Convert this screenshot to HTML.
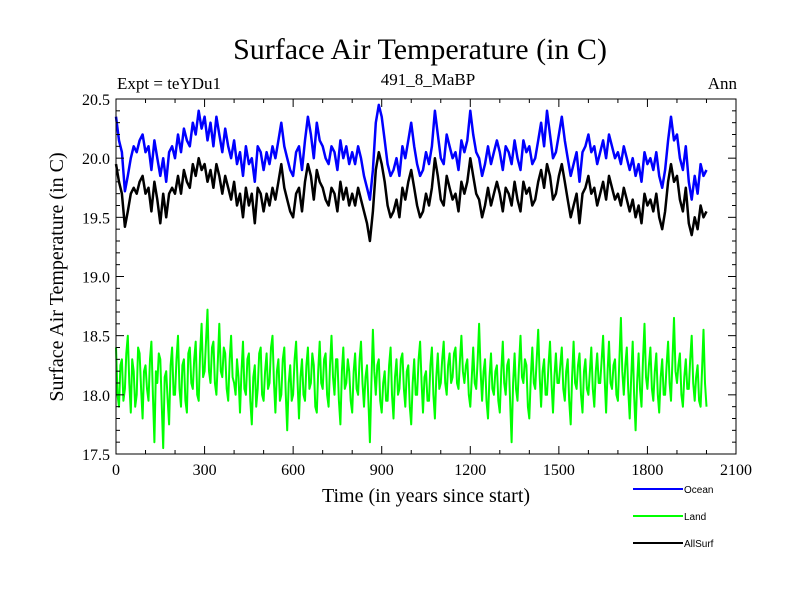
<!DOCTYPE html>
<html><head><meta charset="utf-8"><style>
body{margin:0;background:#fff;}
svg text{font-family:"Liberation Serif",serif;}
</style></head><body>
<svg id="chart" width="800" height="600" xmlns="http://www.w3.org/2000/svg">
<rect width="800" height="600" fill="#fff"/>
<text x="420" y="59" font-size="30" text-anchor="middle">Surface Air Temperature (in C)</text>
<text x="117" y="89" font-size="17">Expt = teYDu1</text>
<text x="428" y="85" font-size="17" text-anchor="middle">491_8_MaBP</text>
<text x="737" y="89" font-size="17" text-anchor="end">Ann</text>
<text transform="translate(63,277) rotate(-90)" font-size="20" text-anchor="middle">Surface Air Temperature (in C)</text>
<text x="426" y="502" font-size="20" text-anchor="middle">Time (in years since start)</text>
<g id="series"></g>
<g id="axes"></g>
<g id="legend"></g>
</svg>
<script>
const yearStep = 10;
const landStep = 5;
const ocean = [20.35,20.15,20.05,19.72,19.85,20.0,20.1,20.05,20.15,20.2,
20.05,20.1,19.9,20.15,20.0,19.85,20.0,19.8,20.05,20.1,
20.0,20.2,20.05,20.25,20.15,20.1,20.3,20.2,20.4,20.25,
20.35,20.15,20.3,20.1,20.35,20.2,20.05,20.25,20.1,20.0,
20.15,19.95,20.05,19.85,20.1,19.95,20.0,19.8,20.1,20.05,
19.9,20.05,19.95,20.1,20.0,20.15,20.3,20.1,20.0,19.9,
19.85,20.05,20.1,19.9,20.15,20.35,20.2,20.0,20.3,20.15,
20.1,20.0,19.95,20.1,20.05,19.9,20.15,20.0,20.1,19.95,
20.05,19.95,20.1,20.0,19.85,19.75,19.65,19.9,20.3,20.45,
20.35,20.15,19.95,19.85,19.9,20.0,19.85,20.1,20.0,20.15,
20.3,20.1,19.95,19.85,19.9,20.05,19.95,20.1,20.4,20.2,
20.0,19.95,20.2,20.1,20.0,20.05,19.9,20.15,20.05,20.15,
20.4,20.2,20.05,20.0,19.85,19.95,20.1,19.95,20.05,20.15,
20.05,19.9,20.1,20.05,19.95,20.15,20.0,19.9,20.15,20.05,
20.1,19.95,20.0,20.15,20.3,20.1,20.4,20.2,20.0,20.05,
20.2,20.35,20.15,20.0,19.85,19.95,20.05,19.8,20.05,20.1,
20.2,20.05,20.1,19.95,20.05,20.15,20.0,20.2,20.1,20.0,
20.05,19.95,20.1,20.0,19.9,20.0,19.85,19.95,19.8,20.05,
19.95,20.0,19.9,20.05,19.85,19.75,19.9,20.15,20.35,20.15,
20.2,20.0,19.9,20.1,19.8,19.65,19.85,19.7,19.95,19.85,19.9];
const land = [18.4,18.0,17.9,18.25,18.3,17.95,18.05,18.35,18.5,18.1,17.85,18.3,18.2,17.9,18.0,18.4,18.35,18.05,17.8,18.2,
18.25,18.05,17.95,18.3,18.45,18.0,17.6,18.2,18.1,18.35,18.3,17.9,17.55,18.15,18.2,17.95,17.75,18.25,18.4,18.0,
18.0,18.3,18.5,18.05,17.9,18.25,18.3,17.95,17.85,18.35,18.4,18.1,18.05,18.3,18.45,18.0,17.95,18.35,18.6,18.15,
18.2,18.45,18.72,18.2,18.1,18.4,18.45,18.1,18.0,18.3,18.6,18.2,18.15,18.4,18.35,18.05,17.95,18.3,18.5,18.15,
18.1,18.0,18.3,18.15,17.85,18.2,18.45,18.05,18.0,18.3,18.35,17.95,17.75,18.15,18.25,17.9,18.05,18.35,18.4,18.0,
17.95,18.2,18.35,18.05,18.1,18.4,18.5,18.1,17.85,18.2,18.3,17.95,18.0,18.3,18.4,18.0,17.7,18.1,18.25,17.95,
18.0,18.3,18.45,18.1,17.8,18.15,18.3,18.0,17.95,18.25,18.4,18.05,18.1,18.35,18.25,17.9,17.85,18.2,18.45,18.1,
18.05,18.3,18.35,18.0,17.9,18.25,18.5,18.15,18.0,18.3,18.3,17.95,17.75,18.2,18.4,18.05,18.1,18.3,18.2,17.95,
17.85,18.2,18.35,18.05,18.0,18.3,18.45,18.1,17.9,18.15,18.25,17.95,17.6,18.1,18.55,18.2,18.0,18.25,18.3,17.95,
17.85,18.1,18.2,17.95,17.95,18.25,18.4,18.0,17.8,18.15,18.3,18.0,18.05,18.3,18.35,18.05,17.9,18.2,18.25,17.9,
17.75,18.1,18.3,18.0,18.0,18.3,18.45,18.1,17.85,18.15,18.2,17.95,17.95,18.25,18.4,18.0,17.8,18.15,18.35,18.05,
18.1,18.3,18.45,18.1,18.0,18.25,18.35,18.1,18.15,18.35,18.4,18.1,18.05,18.3,18.5,18.2,18.1,18.25,18.3,18.0,
17.9,18.15,18.4,18.1,18.05,18.3,18.6,18.2,17.95,18.2,18.3,17.95,17.8,18.15,18.35,18.05,18.0,18.2,18.25,17.95,
17.85,18.2,18.45,18.1,18.0,18.25,18.3,17.95,17.6,18.1,18.35,18.05,17.95,18.25,18.5,18.15,18.1,18.3,18.25,17.9,
17.8,18.15,18.4,18.1,18.05,18.3,18.55,18.15,17.9,18.2,18.3,18.0,18.0,18.25,18.45,18.1,17.85,18.15,18.35,18.1,
18.1,18.25,18.4,18.05,17.95,18.2,18.3,17.95,17.75,18.15,18.45,18.1,18.05,18.25,18.35,18.0,17.85,18.2,18.3,18.05,
18.0,18.2,18.4,18.05,17.9,18.2,18.35,18.1,18.1,18.3,18.5,18.15,17.85,18.2,18.45,18.1,18.05,18.25,18.3,18.0,
17.95,18.3,18.65,18.2,18.0,18.25,18.4,18.05,17.8,18.15,18.45,18.0,17.7,18.1,18.35,18.05,17.9,18.3,18.6,18.15,
18.05,18.25,18.4,18.05,17.95,18.2,18.35,18.0,17.85,18.15,18.3,18.0,18.0,18.25,18.45,18.1,17.95,18.3,18.65,18.2,
18.1,18.25,18.35,18.0,17.9,18.15,18.3,18.05,18.05,18.3,18.5,18.1,17.95,18.15,18.25,17.95,17.9,18.2,18.55,18.1,17.9];
const allSurf = [19.95,19.8,19.7,19.42,19.55,19.7,19.75,19.7,19.8,19.85,
19.7,19.75,19.55,19.8,19.65,19.45,19.7,19.5,19.7,19.75,
19.7,19.85,19.7,19.9,19.8,19.75,19.95,19.85,20.0,19.9,
19.95,19.8,19.9,19.75,19.95,19.85,19.7,19.85,19.75,19.65,
19.8,19.6,19.7,19.5,19.75,19.6,19.7,19.45,19.75,19.7,
19.55,19.7,19.6,19.75,19.65,19.8,19.95,19.75,19.65,19.55,
19.5,19.7,19.75,19.55,19.8,19.95,19.85,19.65,19.9,19.8,
19.75,19.65,19.6,19.75,19.7,19.55,19.8,19.65,19.75,19.6,
19.7,19.6,19.75,19.65,19.55,19.45,19.3,19.55,19.9,20.05,
19.95,19.8,19.6,19.5,19.55,19.65,19.5,19.75,19.65,19.8,
19.9,19.75,19.6,19.5,19.55,19.7,19.6,19.75,20.0,19.85,
19.65,19.6,19.85,19.75,19.65,19.7,19.55,19.8,19.7,19.8,
20.0,19.85,19.7,19.65,19.5,19.6,19.75,19.6,19.7,19.8,
19.7,19.55,19.75,19.7,19.6,19.8,19.65,19.55,19.8,19.7,
19.75,19.6,19.65,19.8,19.9,19.75,19.95,19.85,19.65,19.7,
19.85,19.95,19.8,19.65,19.5,19.6,19.7,19.45,19.7,19.75,
19.85,19.7,19.75,19.6,19.7,19.8,19.65,19.85,19.75,19.65,
19.7,19.6,19.75,19.65,19.55,19.65,19.5,19.6,19.45,19.7,
19.6,19.65,19.55,19.7,19.5,19.4,19.55,19.8,19.95,19.8,
19.85,19.65,19.55,19.75,19.45,19.35,19.5,19.4,19.6,19.5,19.55];
const xTicks = [0,300,600,900,1200,1500,1800,2100];
const yTicks = [17.5,18.0,18.5,19.0,19.5,20.0,20.5];
const legendNames = ["Ocean","Land","AllSurf"];

const NS="http://www.w3.org/2000/svg";
const L=116,R=736,T=99,B=454;
const X0=0,X1=2100,Y0=17.5,Y1=20.5;
function xs(v){return L+(v-X0)/(X1-X0)*(R-L);}
function ys(v){return B-(v-Y0)/(Y1-Y0)*(B-T);}
function mk(tag,attrs,parent){const e=document.createElementNS(NS,tag);for(const k in attrs)e.setAttribute(k,attrs[k]);parent.appendChild(e);return e;}

const sg=document.getElementById('series');
function drawSeries(arr,step,color,name,w){
  const pts=arr.map((v,i)=>xs(i*step).toFixed(1)+','+ys(v).toFixed(1)).join(' ');
  const p=mk('polyline',{points:pts,fill:'none',stroke:color,'stroke-width':w,'stroke-linejoin':'round'},sg);
  
  
}
drawSeries(land,landStep,'#00ff00','land-series','2');
drawSeries(ocean,yearStep,'#0000ff','ocean-series','2.5');
drawSeries(allSurf,yearStep,'#000000','allsurf-series','2.5');

const ag=document.getElementById('axes');
const frame=mk('rect',{x:L,y:T,width:R-L,height:B-T,fill:'none',stroke:'#000','stroke-width':'1'},ag);


for(let v=0;v<=2100;v+=100){
  const major=v%300===0, len=major?8:4, x=xs(v);
  mk('line',{x1:x,y1:B,x2:x,y2:B-len,stroke:'#000'},ag);
  mk('line',{x1:x,y1:T,x2:x,y2:T+len,stroke:'#000'},ag);
}
for(let k=0;k<=30;k++){
  const v=17.5+k*0.1, major=k%5===0, len=major?8:4, y=ys(v);
  mk('line',{x1:L,y1:y,x2:L+len,y2:y,stroke:'#000'},ag);
  mk('line',{x1:R,y1:y,x2:R-len,y2:y,stroke:'#000'},ag);
}
xTicks.forEach(v=>{
  const t=mk('text',{x:xs(v),y:B+21,'font-size':'16','text-anchor':'middle'},ag);
  t.textContent=v;
  
  
});
yTicks.forEach(v=>{
  const t=mk('text',{x:L-6,y:ys(v)+6,'font-size':'16','text-anchor':'end'},ag);
  t.textContent=v.toFixed(1);
  
  
});

const lg=document.getElementById('legend');
const colors=['#0000ff','#00ff00','#000000'];
legendNames.forEach((n,i)=>{
  const y=489+i*27;
  const g=mk('g',{},lg);
  
  
  mk('line',{x1:633,y1:y,x2:683,y2:y,stroke:colors[i],'stroke-width':'2'},g);
  const t=mk('text',{x:684,y:y+4,'font-size':'10','style':'font-family:"Liberation Sans",sans-serif'},g);
  t.textContent=n;
});
</script>
</body></html>
